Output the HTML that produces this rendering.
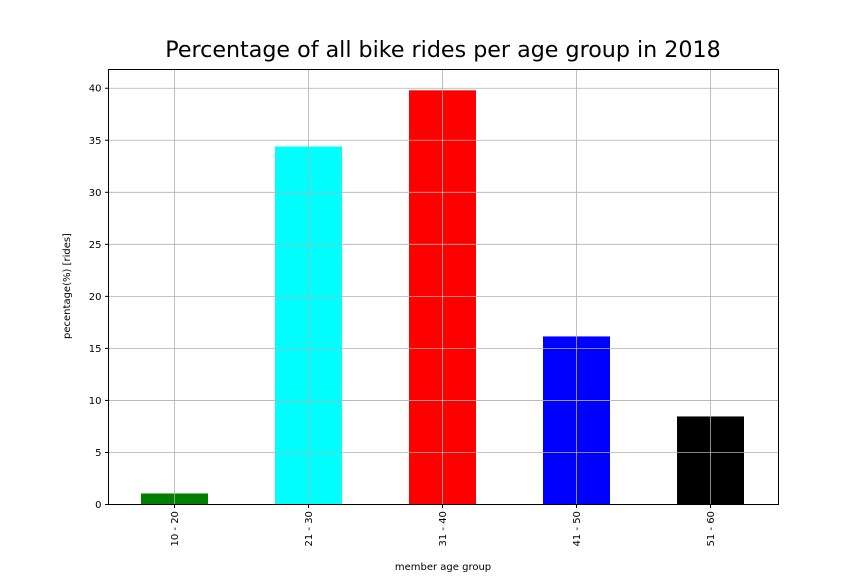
<!DOCTYPE html>
<html><head><meta charset="utf-8"><style>
body{margin:0;background:#fff;}
svg{display:block;font-family:"DejaVu Sans","Liberation Sans",sans-serif;}
</style></head><body>
<svg id="chart" width="864" height="576">
<text x="443" y="57" text-anchor="middle" font-size="22.2">Percentage of all bike rides per age group in 2018</text>
<text x="443" y="570" text-anchor="middle" font-size="10">member age group</text>
<text transform="translate(70,286) rotate(-90)" text-anchor="middle" font-size="10">pecentage(%) [rides]</text>
<g id="bars"></g><g id="grid"></g><g id="ticks"></g>
<rect x="108.5" y="69.5" width="670" height="435" fill="none" stroke="#000" stroke-width="1"/>
</svg>
<script>
const categories=["10 - 20","21 - 30","31 - 40","41 - 50","51 - 60"];
const values=[1.06,34.4,39.8,16.15,8.46];
const colors=["#008000","#00ffff","#ff0000","#0000ff","#000000"];
const yTicks=[0,5,10,15,20,25,30,35,40];
const L=108.5,R=778.5,T=69.5,B=504.5,yMax=41.8;
const ns="http://www.w3.org/2000/svg";
function y(v){return B-(v/yMax)*(B-T);}
function x(i){return L-1+(R-L)*(i+0.5)/categories.length;}
const bw=(R-L)/categories.length*0.5;
const bars=document.getElementById('bars'),grid=document.getElementById('grid'),ticks=document.getElementById('ticks');
function mk(tag,attrs,parent){const e=document.createElementNS(ns,tag);for(const k in attrs)e.setAttribute(k,attrs[k]);parent.appendChild(e);return e;}
categories.forEach((c,i)=>{
 const r=mk('rect',{x:x(i)-bw/2,y:y(values[i]),width:bw,height:B-y(values[i]),fill:colors[i]},bars);
 
 
 const g=mk('line',{x1:x(i),x2:x(i),y1:T,y2:B,stroke:'#b0b0b0','stroke-width':0.8},grid);
 
 
 mk('line',{x1:x(i),x2:x(i),y1:B,y2:B+3.5,stroke:'#000'},ticks);
 const t=mk('text',{transform:`translate(${x(i)+3.5},${B+42}) rotate(-90)`,'font-size':10},ticks);
 t.textContent=c;
 
 
});
yTicks.forEach(v=>{
 const g=mk('line',{x1:L,x2:R,y1:y(v),y2:y(v),stroke:'#b0b0b0','stroke-width':0.8},grid);
 
 
 mk('line',{x1:L-3.5,x2:L,y1:y(v),y2:y(v),stroke:'#000'},ticks);
 const t=mk('text',{x:L-7,y:y(v)+3.5,'text-anchor':'end','font-size':10},ticks);
 t.textContent=v;
 
 
});
</script>
</body></html>
